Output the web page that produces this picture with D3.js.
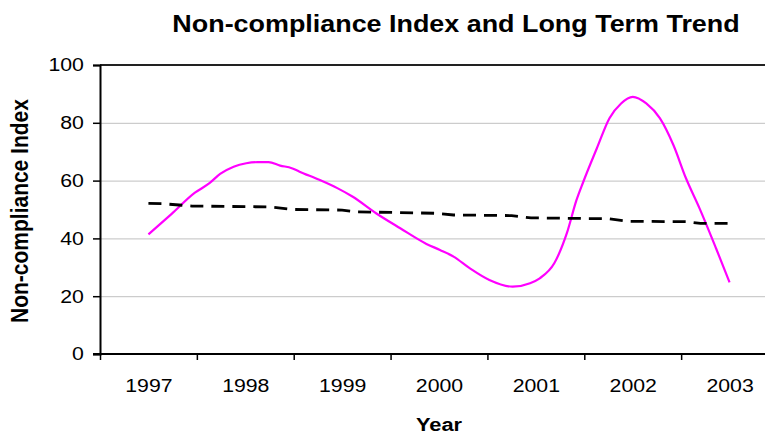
<!DOCTYPE html>
<html><head><meta charset="utf-8">
<script src="https://cdn.jsdelivr.net/npm/d3@7"></script>
<style>
html,body{margin:0;padding:0;background:#fff;}
text{font-family:Arial,"Liberation Sans",sans-serif;}
</style></head>
<body>
<svg id="c" width="765" height="436"></svg>
<script>
const years = [1997, 1998, 1999, 2000, 2001, 2002, 2003];
const yTicks = [0, 20, 40, 60, 80, 100];

const indexX = [1997.00,1997.24,1997.48,1997.63,1997.74,1997.88,1998.01,1998.13,1998.24,1998.36,1998.48,1998.56,1998.77,1998.95,1999.11,1999.35,1999.60,1999.87,2000.01,2000.15,2000.32,2000.52,2000.76,2000.94,2001.04,2001.19,2001.32,2001.42,2001.49,2001.63,2001.76,2001.88,2002.00,2002.14,2002.28,2002.42,2002.55,2002.69,2002.86,2003.00];
const indexValues = [41.4,48.5,55.8,59.1,62.3,64.8,66.0,66.4,66.4,65.2,64.3,63.1,60.2,57.4,54.4,48.7,43.5,38.1,36.0,33.7,29.6,25.6,23.3,24.5,26.2,31.4,41.8,53.3,59.6,71.2,81.6,86.7,89.0,86.7,81.6,72.3,60.8,50.4,36.6,24.8];

const trendX = [1997.00,1997.15,1997.45,1998.25,1998.50,1999.00,1999.15,1999.95,2000.15,2000.75,2000.95,2001.75,2001.95,2002.55,2002.70,2003.00];
const trendValues = [52.1,52.0,51.2,50.9,50.0,49.8,49.2,48.7,48.1,47.9,47.1,46.8,45.9,45.8,45.2,45.2];

const SX = 1.15; // horizontal stretch of the original chart's text
const svg = d3.select("#c");
const L = 100, T = 65, B = 354, R = 765;
const x = d3.scaleLinear().domain([1996.5, 2003.5]).range([L, 778]);
const y = d3.scaleLinear().domain([0, 100]).range([B, T]);

// gridlines
svg.append("g").attr("transform", `translate(${L},0)`)
  .call(d3.axisLeft(y).tickValues([20,40,60,80]).tickSize(-(R - L)).tickFormat(""))
  .call(g => g.select(".domain").remove())
  .call(g => g.selectAll("line").attr("stroke", "#c0c0c0").attr("stroke-width", 1));

// top border
svg.append("line").attr("x1", L).attr("x2", R).attr("y1", y(100)).attr("y2", y(100))
  .attr("stroke", "#222").attr("stroke-width", 2);

// y axis
const ya = svg.append("g").attr("transform", `translate(${L},0)`)
  .call(d3.axisLeft(y).tickValues(yTicks).tickSize(7).tickPadding(7).tickFormat(d3.format("d")));
ya.select(".domain").attr("stroke", "#000").attr("stroke-width", 2);
ya.selectAll("line").attr("stroke", "#000").attr("stroke-width", 1.5);
ya.selectAll("text").attr("font-size", 18.5).attr("fill", "#000").style("font-family", "Arial")
  .attr("transform", `scale(${SX},1)`);

// x axis ticks (category boundaries)
const xb = svg.append("g").attr("transform", `translate(0,${B})`)
  .call(d3.axisBottom(x).tickValues(years.map(d => d - 0.5)).tickSize(6).tickFormat(""));
xb.select(".domain").remove();
xb.selectAll("line").attr("stroke", "#000").attr("stroke-width", 1.5);
svg.append("line").attr("x1", L - 7).attr("x2", R).attr("y1", B).attr("y2", B)
  .attr("stroke", "#000").attr("stroke-width", 2);

// x labels
const xl = svg.append("g").attr("transform", `translate(0,${B})`)
  .call(d3.axisBottom(x).tickValues(years).tickSize(0).tickPadding(25).tickFormat(d3.format("d")));
xl.select(".domain").remove();
xl.selectAll("text").attr("font-size", 18.5).attr("fill", "#000").style("font-family", "Arial")
  .attr("transform", `scale(${SX},1)`);

// lines
const lineGen = d3.line().x(d => x(d[0])).y(d => y(d[1])).curve(d3.curveMonotoneX);
svg.append("path").datum(indexX.map((d, i) => [d, indexValues[i]]))
  .attr("d", lineGen).attr("fill", "none").attr("stroke", "#ff00ff").attr("stroke-width", 2.2);
const lineLin = d3.line().x(d => x(d[0])).y(d => y(d[1]));
svg.append("path").datum(trendX.map((d, i) => [d, trendValues[i]]))
  .attr("d", lineLin).attr("fill", "none").attr("stroke", "#000").attr("stroke-width", 2.8)
  .attr("stroke-dasharray", "13,8");

// titles
svg.append("text").attr("transform", `translate(456,32) scale(1.17,1)`).attr("text-anchor", "middle")
  .attr("font-size", 23).attr("font-weight", "bold").text("Non-compliance Index and Long Term Trend");
svg.append("text").attr("transform", `translate(439,431) scale(${SX},1)`).attr("text-anchor", "middle")
  .attr("font-size", 19).attr("font-weight", "bold").text("Year");
svg.append("text").attr("transform", `translate(28,211) scale(${SX},1) rotate(-90)`).attr("text-anchor", "middle")
  .attr("font-size", 21).attr("font-weight", "bold").text("Non-compliance Index");
</script>
</body></html>
